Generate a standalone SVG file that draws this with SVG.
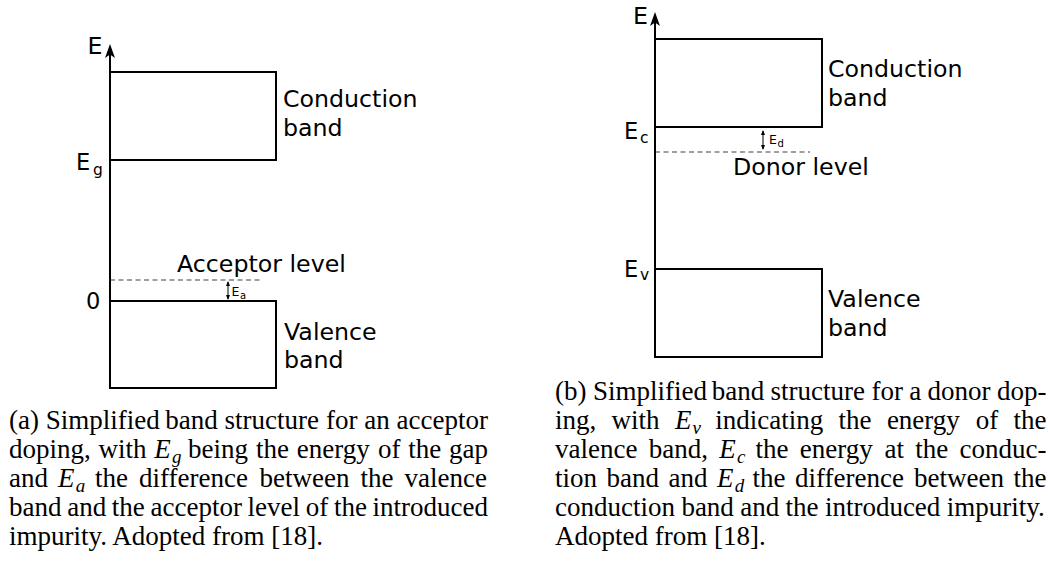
<svg xmlns="http://www.w3.org/2000/svg" width="1048" height="569" viewBox="0 0 1048 569">
  <defs>
    <style>
      .band { fill: none; stroke: #000; stroke-width: 2; }
      .axis { fill: none; stroke: #000; stroke-width: 2; marker-end: url(#axisHead); }
      .level { fill: none; stroke: #808080; stroke-width: 1.5; stroke-dasharray: 5 3.5; }
      .gap { fill: none; stroke: #000; stroke-width: 1; marker-start: url(#tinyHead); marker-end: url(#tinyHead); }
      .lbl { font-family: "DejaVu Sans", sans-serif; fill: #000; }
      .big { font-size: 23.7px; }
      .mid { font-size: 22.5px; }
      .sub { font-size: 15.5px; }
      .tiny { font-size: 12.5px; }
      .tinysub { font-size: 10px; }
      .cap { font-family: "Liberation Serif", "Times New Roman", serif; font-size: 27px; fill: #000; }
      .it { font-style: italic; }
      .cs { font-style: italic; font-size: 19px; }
    </style>
    <marker id="axisHead" viewBox="0 0 14 10" refX="6" refY="5" markerWidth="14" markerHeight="10" markerUnits="userSpaceOnUse" orient="auto">
      <path d="M0,0 L14,5 L0,10 L3.5,5 Z" fill="#000"/>
    </marker>
    <marker id="tinyHead" viewBox="0 0 5 4" refX="4" refY="2" markerWidth="5" markerHeight="4" markerUnits="userSpaceOnUse" orient="auto-start-reverse">
      <path d="M0,0 L5,2 L0,4 Z" fill="#000"/>
    </marker>
  </defs>

  <!-- (a) acceptor doping -->
  <g id="a-conduction">
    <rect class="band" x="110" y="72" width="166" height="88"/>
    <text class="lbl big" x="283" y="107">Conduction</text>
    <text class="lbl big" x="283" y="136">band</text>
  </g>
  <g id="a-valence">
    <rect class="band" x="110" y="301" width="166" height="87"/>
    <text class="lbl big" x="284" y="340">Valence</text>
    <text class="lbl big" x="284" y="368">band</text>
  </g>
  <g id="a-acceptor">
    <line class="level" x1="110" y1="280" x2="263" y2="280"/>
    <text class="lbl big" x="177" y="272">Acceptor level</text>
  </g>
  <g id="a-axis-labels">
    <text class="lbl big" x="87.5" y="54">E</text>
    <text class="lbl mid" x="76" y="170">E<tspan class="sub" x="93" y="175">g</tspan></text>
    <text class="lbl mid" x="86" y="309">0</text>
    <text class="lbl tiny" x="231.5" y="295.5">E<tspan class="tinysub" x="240" y="298.5">a</tspan></text>
  </g>

  <!-- (b) donor doping -->
  <g id="b-conduction">
    <rect class="band" x="655" y="39" width="167" height="88"/>
    <text class="lbl big" x="828" y="77">Conduction</text>
    <text class="lbl big" x="828" y="106">band</text>
  </g>
  <g id="b-valence">
    <rect class="band" x="655" y="269" width="167" height="88"/>
    <text class="lbl big" x="828" y="307">Valence</text>
    <text class="lbl big" x="828" y="336">band</text>
  </g>
  <g id="b-donor">
    <line class="level" x1="655" y1="152" x2="810" y2="152"/>
    <text class="lbl big" x="733" y="175">Donor level</text>
  </g>
  <g id="b-axis-labels">
    <text class="lbl big" x="633" y="24">E</text>
    <text class="lbl mid" x="624" y="139">E<tspan class="sub" x="640" y="143">c</tspan></text>
    <text class="lbl mid" x="624" y="277">E<tspan class="sub" x="640" y="280">v</tspan></text>
    <text class="lbl tiny" x="769" y="143.5">E<tspan class="tinysub" x="777.5" y="146.5">d</tspan></text>
  </g>

  <!-- axes and energy-difference arrows -->
  <g id="connectors">
    <line class="axis" x1="110" y1="301" x2="110" y2="52"/>
    <line class="axis" x1="655" y1="269" x2="655" y2="20"/>
    <line class="gap" x1="228" y1="282" x2="228" y2="299"/>
    <line class="gap" x1="763" y1="131" x2="763" y2="149"/>
  </g>

  <!-- captions -->
  <g id="caption-a">
    <text class="cap" y="429"><tspan x="9">(a)</tspan><tspan x="45.8">Simplified</tspan><tspan x="165.2">band</tspan><tspan x="224.5">structure</tspan><tspan x="325.9">for</tspan><tspan x="364.2">an</tspan><tspan x="396.6">acceptor</tspan></text>
    <text class="cap" y="458"><tspan x="9">doping,</tspan><tspan x="98.5">with</tspan><tspan x="154.3" class="it">E</tspan><tspan x="172" y="463" class="cs">g</tspan><tspan x="188.1" y="458">being</tspan><tspan x="255.9">the</tspan><tspan x="296.7">energy</tspan><tspan x="377.9">of</tspan><tspan x="408.2">the</tspan><tspan x="449">gap</tspan></text>
    <text class="cap" y="487"><tspan x="9">and</tspan><tspan x="58" class="it">E</tspan><tspan x="75.7" y="492" class="cs">a</tspan><tspan x="95" y="487">the</tspan><tspan x="139.1">difference</tspan><tspan x="259.5">between</tspan><tspan x="360.5">the</tspan><tspan x="404.6">valence</tspan></text>
    <text class="cap" y="516"><tspan x="9">band</tspan><tspan x="67.2">and</tspan><tspan x="111.8">the</tspan><tspan x="150.5">acceptor</tspan><tspan x="247.6">level</tspan><tspan x="305.7">of</tspan><tspan x="333.9">the</tspan><tspan x="372.5">introduced</tspan></text>
    <text class="cap" x="9" y="545">impurity. Adopted from [18].</text>
  </g>
  <g id="caption-b">
    <text class="cap" y="400"><tspan x="555">(b)</tspan><tspan x="592.9">Simplified</tspan><tspan x="711.7">band</tspan><tspan x="770.6">structure</tspan><tspan x="871.4">for</tspan><tspan x="909.3">a</tspan><tspan x="927.6">donor</tspan><tspan x="997">dop-</tspan></text>
    <text class="cap" y="429"><tspan x="555">ing,</tspan><tspan x="611.6">with</tspan><tspan x="674.9" class="it">E</tspan><tspan x="692.6" y="434" class="cs">v</tspan><tspan x="715.2" y="429">indicating</tspan><tspan x="838.5">the</tspan><tspan x="886.9">energy</tspan><tspan x="975.7">of</tspan><tspan x="1013.5">the</tspan></text>
    <text class="cap" y="458"><tspan x="555">valence</tspan><tspan x="648.7">band,</tspan><tspan x="719.3" class="it">E</tspan><tspan x="737" y="463" class="cs">c</tspan><tspan x="755.5" y="458">the</tspan><tspan x="799.8">energy</tspan><tspan x="884.5">at</tspan><tspan x="915.3">the</tspan><tspan x="959.6">conduc-</tspan></text>
    <text class="cap" y="487"><tspan x="555">tion</tspan><tspan x="606.5">band</tspan><tspan x="668.5">and</tspan><tspan x="717.1" class="it">E</tspan><tspan x="734.8" y="492" class="cs">d</tspan><tspan x="752.6" y="487">the</tspan><tspan x="795.1">difference</tspan><tspan x="914">between</tspan><tspan x="1013.5">the</tspan></text>
    <text class="cap" y="516"><tspan x="555">conduction</tspan><tspan x="681.4">band</tspan><tspan x="740.2">and</tspan><tspan x="785.6">the</tspan><tspan x="824.9">introduced</tspan><tspan x="946.8">impurity.</tspan></text>
    <text class="cap" x="555" y="545">Adopted from [18].</text>
  </g>
</svg>
